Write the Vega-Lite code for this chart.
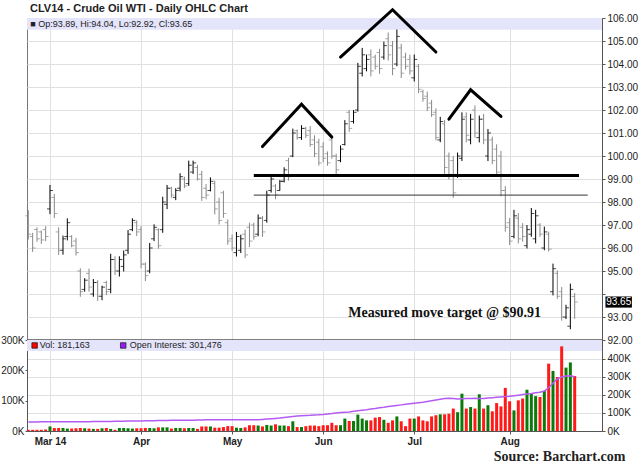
{
  "$schema": "https://vega.github.io/schema/vega-lite/v6.json",
  "background": "white",
  "padding": {"left": 0, "top": 2, "right": 2, "bottom": 0},
  "spacing": 0,
  "bounds": "flush",
  "resolve": {"scale": {"x": "shared"}},
  "config": {
    "view": {"stroke": "#777"},
    "font": "Liberation Sans",
    "axis": {"labelFont": "Liberation Sans", "labelFontSize": 10, "labelColor": "#222", "gridColor": "#e0e0e0", "domainColor": "#555", "tickColor": "#555", "labelOverlap": false}
  },
  "datasets": {
    "bars": [
      {"d":"2014-02-24","o":97.4,"h":97.64,"l":96.37,"c":96.6,"vol":4000,"oi":50000},
      {"d":"2014-02-25","o":96.5,"h":96.66,"l":95.83,"c":96.0,"vol":4000,"oi":50000},
      {"d":"2014-02-26","o":96.8,"h":96.9,"l":96.27,"c":96.4,"vol":4000,"oi":50000},
      {"d":"2014-02-27","o":96.7,"h":96.76,"l":96.18,"c":96.35,"vol":4000,"oi":51000},
      {"d":"2014-02-28","o":96.8,"h":96.95,"l":96.3,"c":96.5,"vol":5000,"oi":51000},
      {"d":"2014-03-03","o":97.7,"h":98.74,"l":97.47,"c":98.5,"vol":15000,"oi":51000},
      {"d":"2014-03-04","o":98.2,"h":98.35,"l":97.3,"c":97.5,"vol":10000,"oi":51000},
      {"d":"2014-03-05","o":96.7,"h":96.9,"l":95.7,"c":95.9,"vol":10000,"oi":51000},
      {"d":"2014-03-06","o":95.9,"h":96.54,"l":95.71,"c":96.4,"vol":10000,"oi":52000},
      {"d":"2014-03-07","o":96.5,"h":97.29,"l":96.33,"c":97.1,"vol":8000,"oi":52000},
      {"d":"2014-03-10","o":96.5,"h":96.56,"l":96.03,"c":96.1,"vol":8000,"oi":52000},
      {"d":"2014-03-11","o":96.3,"h":96.44,"l":95.67,"c":95.8,"vol":9000,"oi":52000},
      {"d":"2014-03-12","o":95.0,"h":95.12,"l":93.88,"c":94.1,"vol":10000,"oi":52000},
      {"d":"2014-03-13","o":94.2,"h":94.69,"l":94.1,"c":94.6,"vol":9000,"oi":52000},
      {"d":"2014-03-14","o":94.9,"h":95.1,"l":94.1,"c":94.3,"vol":8000,"oi":52000},
      {"d":"2014-03-17","o":94.0,"h":94.65,"l":93.88,"c":94.5,"vol":7000,"oi":53000},
      {"d":"2014-03-18","o":94.5,"h":94.6,"l":93.7,"c":93.9,"vol":7000,"oi":53000},
      {"d":"2014-03-19","o":93.9,"h":94.36,"l":93.73,"c":94.3,"vol":9000,"oi":53000},
      {"d":"2014-03-20","o":94.5,"h":94.57,"l":93.95,"c":94.1,"vol":10000,"oi":53000},
      {"d":"2014-03-21","o":94.2,"h":95.75,"l":94.03,"c":95.5,"vol":7000,"oi":53000},
      {"d":"2014-03-24","o":95.5,"h":95.64,"l":94.83,"c":95.0,"vol":4000,"oi":54000},
      {"d":"2014-03-25","o":95.0,"h":95.64,"l":94.76,"c":95.5,"vol":10000,"oi":54000},
      {"d":"2014-03-26","o":95.2,"h":95.89,"l":94.98,"c":95.7,"vol":10000,"oi":54000},
      {"d":"2014-03-27","o":95.9,"h":96.78,"l":95.74,"c":96.6,"vol":9000,"oi":55000},
      {"d":"2014-03-28","o":96.8,"h":97.29,"l":96.73,"c":97.2,"vol":8000,"oi":55000},
      {"d":"2014-03-31","o":97.1,"h":97.2,"l":96.52,"c":96.7,"vol":9000,"oi":56000},
      {"d":"2014-04-01","o":96.8,"h":96.95,"l":95.12,"c":95.3,"vol":9000,"oi":56000},
      {"d":"2014-04-02","o":95.3,"h":95.37,"l":94.56,"c":94.8,"vol":10000,"oi":57000},
      {"d":"2014-04-03","o":95.0,"h":96.22,"l":94.9,"c":96.0,"vol":10000,"oi":57000},
      {"d":"2014-04-04","o":96.4,"h":97.03,"l":96.3,"c":96.9,"vol":9000,"oi":57000},
      {"d":"2014-04-07","o":96.8,"h":96.85,"l":95.97,"c":96.1,"vol":12000,"oi":58000},
      {"d":"2014-04-08","o":96.8,"h":98.23,"l":96.66,"c":98.0,"vol":12000,"oi":58000},
      {"d":"2014-04-09","o":97.9,"h":98.74,"l":97.69,"c":98.6,"vol":12000,"oi":58000},
      {"d":"2014-04-10","o":98.6,"h":98.66,"l":98.19,"c":98.3,"vol":8000,"oi":59000},
      {"d":"2014-04-11","o":98.2,"h":98.6,"l":98.08,"c":98.5,"vol":10000,"oi":59000},
      {"d":"2014-04-14","o":98.6,"h":99.25,"l":98.46,"c":99.1,"vol":10000,"oi":59000},
      {"d":"2014-04-15","o":99.0,"h":99.1,"l":98.6,"c":98.7,"vol":9000,"oi":60000},
      {"d":"2014-04-16","o":98.8,"h":99.8,"l":98.7,"c":99.6,"vol":10000,"oi":60000},
      {"d":"2014-04-17","o":99.3,"h":99.8,"l":99.22,"c":99.7,"vol":10000,"oi":60000},
      {"d":"2014-04-21","o":99.5,"h":99.61,"l":98.93,"c":99.0,"vol":7000,"oi":61000},
      {"d":"2014-04-22","o":99.2,"h":99.36,"l":98.05,"c":98.2,"vol":15000,"oi":61000},
      {"d":"2014-04-23","o":98.6,"h":98.78,"l":98.12,"c":98.3,"vol":15000,"oi":62000},
      {"d":"2014-04-24","o":98.5,"h":99.07,"l":98.46,"c":98.9,"vol":15000,"oi":62000},
      {"d":"2014-04-25","o":98.8,"h":98.93,"l":97.46,"c":97.7,"vol":11000,"oi":62000},
      {"d":"2014-04-28","o":98.0,"h":98.19,"l":97.02,"c":97.2,"vol":11000,"oi":63000},
      {"d":"2014-04-29","o":98.4,"h":98.49,"l":97.31,"c":97.5,"vol":13000,"oi":63000},
      {"d":"2014-04-30","o":97.1,"h":97.24,"l":96.14,"c":96.3,"vol":16000,"oi":63000},
      {"d":"2014-05-01","o":96.4,"h":96.58,"l":95.88,"c":96.0,"vol":16000,"oi":63000},
      {"d":"2014-05-02","o":95.8,"h":96.7,"l":95.63,"c":96.5,"vol":11000,"oi":63000},
      {"d":"2014-05-05","o":95.9,"h":96.58,"l":95.78,"c":96.4,"vol":10000,"oi":63000},
      {"d":"2014-05-06","o":96.6,"h":96.8,"l":95.56,"c":95.7,"vol":12000,"oi":63000},
      {"d":"2014-05-07","o":96.9,"h":97.1,"l":96.04,"c":96.3,"vol":19000,"oi":62000},
      {"d":"2014-05-08","o":97.0,"h":97.1,"l":96.36,"c":96.5,"vol":19000,"oi":62000},
      {"d":"2014-05-09","o":96.6,"h":97.46,"l":96.51,"c":97.3,"vol":18000,"oi":62000},
      {"d":"2014-05-12","o":97.3,"h":97.39,"l":96.48,"c":96.7,"vol":15000,"oi":64000},
      {"d":"2014-05-13","o":97.2,"h":98.49,"l":97.1,"c":98.3,"vol":20000,"oi":66000},
      {"d":"2014-05-14","o":98.5,"h":99.1,"l":98.41,"c":99.0,"vol":18000,"oi":68000},
      {"d":"2014-05-15","o":98.7,"h":98.78,"l":98.12,"c":98.3,"vol":22000,"oi":70000},
      {"d":"2014-05-16","o":98.5,"h":98.95,"l":98.49,"c":98.9,"vol":18000,"oi":72000},
      {"d":"2014-05-19","o":98.9,"h":99.51,"l":98.85,"c":99.4,"vol":18000,"oi":75000},
      {"d":"2014-05-20","o":99.8,"h":99.92,"l":98.93,"c":99.1,"vol":16000,"oi":78000},
      {"d":"2014-05-21","o":100.0,"h":101.19,"l":99.95,"c":101.0,"vol":32000,"oi":81000},
      {"d":"2014-05-22","o":101.1,"h":101.15,"l":100.71,"c":100.8,"vol":13000,"oi":83000},
      {"d":"2014-05-23","o":100.8,"h":101.34,"l":100.7,"c":101.2,"vol":13000,"oi":85000},
      {"d":"2014-05-27","o":101.2,"h":101.27,"l":100.78,"c":100.9,"vol":16000,"oi":86000},
      {"d":"2014-05-28","o":101.1,"h":101.3,"l":100.4,"c":100.5,"vol":18000,"oi":87000},
      {"d":"2014-05-29","o":100.7,"h":100.9,"l":99.95,"c":100.1,"vol":18000,"oi":89000},
      {"d":"2014-05-30","o":100.6,"h":100.75,"l":99.58,"c":99.7,"vol":16000,"oi":90000},
      {"d":"2014-06-02","o":100.4,"h":100.6,"l":99.73,"c":99.9,"vol":19000,"oi":92000},
      {"d":"2014-06-03","o":100.1,"h":100.2,"l":99.58,"c":99.7,"vol":19000,"oi":95000},
      {"d":"2014-06-04","o":100.7,"h":100.85,"l":99.88,"c":100.0,"vol":27000,"oi":97000},
      {"d":"2014-06-05","o":100.0,"h":100.1,"l":99.2,"c":99.4,"vol":19000,"oi":100000},
      {"d":"2014-06-06","o":99.8,"h":100.46,"l":99.73,"c":100.3,"vol":19000,"oi":102000},
      {"d":"2014-06-09","o":100.5,"h":101.56,"l":100.46,"c":101.4,"vol":41000,"oi":104000},
      {"d":"2014-06-10","o":101.9,"h":102.0,"l":101.05,"c":101.2,"vol":33000,"oi":106000},
      {"d":"2014-06-11","o":101.5,"h":102.0,"l":101.41,"c":101.9,"vol":33000,"oi":109000},
      {"d":"2014-06-12","o":102.0,"h":104.05,"l":101.93,"c":103.9,"vol":54000,"oi":112000},
      {"d":"2014-06-13","o":103.6,"h":104.7,"l":103.46,"c":104.4,"vol":41000,"oi":115000},
      {"d":"2014-06-16","o":103.8,"h":104.41,"l":103.68,"c":104.2,"vol":35000,"oi":118000},
      {"d":"2014-06-17","o":104.4,"h":104.63,"l":103.46,"c":103.7,"vol":35000,"oi":122000},
      {"d":"2014-06-18","o":104.3,"h":104.41,"l":103.76,"c":103.9,"vol":44000,"oi":125000},
      {"d":"2014-06-19","o":104.5,"h":104.66,"l":103.57,"c":103.8,"vol":46000,"oi":129000},
      {"d":"2014-06-20","o":104.3,"h":104.97,"l":104.19,"c":104.8,"vol":37000,"oi":132000},
      {"d":"2014-06-23","o":105.1,"h":105.37,"l":104.15,"c":104.4,"vol":27000,"oi":136000},
      {"d":"2014-06-24","o":104.8,"h":105.0,"l":103.51,"c":103.8,"vol":35000,"oi":139000},
      {"d":"2014-06-25","o":104.0,"h":105.5,"l":103.9,"c":105.2,"vol":48000,"oi":142000},
      {"d":"2014-06-26","o":104.7,"h":104.88,"l":103.39,"c":103.6,"vol":32000,"oi":145000},
      {"d":"2014-06-27","o":104.3,"h":104.49,"l":103.76,"c":103.9,"vol":16000,"oi":148000},
      {"d":"2014-06-30","o":104.2,"h":104.41,"l":103.54,"c":103.7,"vol":41000,"oi":151000},
      {"d":"2014-07-01","o":103.4,"h":104.41,"l":103.24,"c":104.2,"vol":41000,"oi":154000},
      {"d":"2014-07-02","o":103.9,"h":104.0,"l":102.73,"c":102.9,"vol":48000,"oi":157000},
      {"d":"2014-07-03","o":102.8,"h":102.88,"l":102.36,"c":102.5,"vol":35000,"oi":160000},
      {"d":"2014-07-07","o":102.6,"h":102.8,"l":101.95,"c":102.1,"vol":32000,"oi":164000},
      {"d":"2014-07-08","o":102.3,"h":102.44,"l":101.7,"c":101.8,"vol":48000,"oi":168000},
      {"d":"2014-07-09","o":101.9,"h":102.07,"l":100.68,"c":100.8,"vol":52000,"oi":172000},
      {"d":"2014-07-10","o":100.7,"h":101.7,"l":100.6,"c":101.5,"vol":55000,"oi":176000},
      {"d":"2014-07-11","o":101.4,"h":101.56,"l":99.22,"c":99.5,"vol":55000,"oi":180000},
      {"d":"2014-07-14","o":100.0,"h":100.15,"l":98.98,"c":99.2,"vol":57000,"oi":182000},
      {"d":"2014-07-15","o":99.8,"h":100.0,"l":98.18,"c":98.4,"vol":74000,"oi":180000},
      {"d":"2014-07-16","o":99.2,"h":100.15,"l":99.05,"c":100.0,"vol":62000,"oi":178000},
      {"d":"2014-07-17","o":99.9,"h":101.9,"l":99.78,"c":101.6,"vol":123000,"oi":179000},
      {"d":"2014-07-18","o":101.7,"h":101.9,"l":100.59,"c":100.9,"vol":74000,"oi":180000},
      {"d":"2014-07-21","o":100.7,"h":101.83,"l":100.51,"c":101.6,"vol":79000,"oi":181000},
      {"d":"2014-07-22","o":102.0,"h":102.2,"l":100.8,"c":101.0,"vol":74000,"oi":182000},
      {"d":"2014-07-23","o":100.8,"h":101.76,"l":100.59,"c":101.6,"vol":121000,"oi":180000},
      {"d":"2014-07-24","o":101.6,"h":101.83,"l":100.51,"c":100.7,"vol":74000,"oi":181000},
      {"d":"2014-07-25","o":100.0,"h":101.17,"l":99.78,"c":101.0,"vol":85000,"oi":183000},
      {"d":"2014-07-28","o":100.7,"h":100.84,"l":99.64,"c":99.8,"vol":65000,"oi":185000},
      {"d":"2014-07-29","o":100.3,"h":100.51,"l":99.13,"c":99.3,"vol":92000,"oi":187000},
      {"d":"2014-07-30","o":100.0,"h":100.22,"l":98.25,"c":98.5,"vol":81000,"oi":189000},
      {"d":"2014-07-31","o":98.5,"h":98.69,"l":96.71,"c":96.9,"vol":142000,"oi":191000},
      {"d":"2014-08-01","o":97.1,"h":97.3,"l":96.13,"c":96.3,"vol":98000,"oi":193000},
      {"d":"2014-08-04","o":96.5,"h":97.66,"l":96.42,"c":97.4,"vol":68000,"oi":196000},
      {"d":"2014-08-05","o":97.3,"h":97.52,"l":96.2,"c":96.4,"vol":101000,"oi":199000},
      {"d":"2014-08-06","o":96.9,"h":97.08,"l":96.27,"c":96.5,"vol":107000,"oi":202000},
      {"d":"2014-08-07","o":96.1,"h":97.0,"l":95.98,"c":96.8,"vol":136000,"oi":205000},
      {"d":"2014-08-08","o":96.6,"h":97.74,"l":96.49,"c":97.5,"vol":123000,"oi":208000},
      {"d":"2014-08-11","o":96.4,"h":97.66,"l":96.2,"c":97.4,"vol":115000,"oi":212000},
      {"d":"2014-08-12","o":97.0,"h":97.08,"l":96.49,"c":96.6,"vol":112000,"oi":215000},
      {"d":"2014-08-13","o":96.0,"h":96.93,"l":95.9,"c":96.7,"vol":132000,"oi":222000},
      {"d":"2014-08-14","o":96.6,"h":96.71,"l":95.84,"c":95.95,"vol":222000,"oi":240000},
      {"d":"2014-08-15","o":94.1,"h":95.32,"l":93.94,"c":95.1,"vol":198000,"oi":265000},
      {"d":"2014-08-18","o":94.9,"h":95.03,"l":93.79,"c":93.9,"vol":178000,"oi":290000},
      {"d":"2014-08-19","o":94.1,"h":94.3,"l":92.84,"c":93.0,"vol":279000,"oi":300000},
      {"d":"2014-08-20","o":93.0,"h":93.53,"l":92.91,"c":93.4,"vol":209000,"oi":305000},
      {"d":"2014-08-21","o":92.6,"h":94.45,"l":92.47,"c":94.2,"vol":226000,"oi":306000},
      {"d":"2014-08-22","o":93.89,"h":94.04,"l":92.92,"c":93.65,"vol":181163,"oi":301476}
    ],
    "hs": [
      {"seg":"left","d":"2014-05-12","p":100.41},
      {"seg":"left","d":"2014-05-23","p":102.25},
      {"seg":"left","d":"2014-06-04","p":100.82},
      {"seg":"head","d":"2014-06-06","p":104.3},
      {"seg":"head","d":"2014-06-24","p":106.36},
      {"seg":"head","d":"2014-07-09","p":104.52},
      {"seg":"right","d":"2014-07-14","p":101.6},
      {"seg":"right","d":"2014-07-21","p":102.88},
      {"seg":"right","d":"2014-07-30","p":101.72}
    ],
    "neck": [{"from":"2014-05-08","to":"2014-08-25","level":99.15}],
    "base": [{"from":"2014-05-08","to":"2014-08-27","level":98.3}],
    "one": [{}]
  },
  "vconcat": [
    {
      "width": 575,
      "height": 322,
      "title": {"text": "CLV14 - Crude Oil WTI - Daily OHLC Chart", "anchor": "start", "frame": "group", "font": "Liberation Sans", "fontSize": 11, "fontWeight": "bold", "color": "#222", "offset": -10, "dx": 3},
      "resolve": {"axis": {"x": "independent", "y": "independent"}},
      "layer": [
        {
          "data": {"name": "one"},
          "mark": {"type": "rect", "color": "#e4e4fa"},
          "encoding": {
            "y": {"datum": 106, "type": "quantitative", "axis": null},
            "y2": {"datum": 105.49}
          }
        },
        {
          "data": {"name": "bars"},
          "mark": {"type": "rule", "strokeWidth": 1},
          "encoding": {
            "x": {
              "field": "d", "type": "ordinal",
              "scale": {"type": "point", "padding": 0.3, "domain": ["2014-02-24","2014-02-25","2014-02-26","2014-02-27","2014-02-28","2014-03-03","2014-03-04","2014-03-05","2014-03-06","2014-03-07","2014-03-10","2014-03-11","2014-03-12","2014-03-13","2014-03-14","2014-03-17","2014-03-18","2014-03-19","2014-03-20","2014-03-21","2014-03-24","2014-03-25","2014-03-26","2014-03-27","2014-03-28","2014-03-31","2014-04-01","2014-04-02","2014-04-03","2014-04-04","2014-04-07","2014-04-08","2014-04-09","2014-04-10","2014-04-11","2014-04-14","2014-04-15","2014-04-16","2014-04-17","2014-04-21","2014-04-22","2014-04-23","2014-04-24","2014-04-25","2014-04-28","2014-04-29","2014-04-30","2014-05-01","2014-05-02","2014-05-05","2014-05-06","2014-05-07","2014-05-08","2014-05-09","2014-05-12","2014-05-13","2014-05-14","2014-05-15","2014-05-16","2014-05-19","2014-05-20","2014-05-21","2014-05-22","2014-05-23","2014-05-27","2014-05-28","2014-05-29","2014-05-30","2014-06-02","2014-06-03","2014-06-04","2014-06-05","2014-06-06","2014-06-09","2014-06-10","2014-06-11","2014-06-12","2014-06-13","2014-06-16","2014-06-17","2014-06-18","2014-06-19","2014-06-20","2014-06-23","2014-06-24","2014-06-25","2014-06-26","2014-06-27","2014-06-30","2014-07-01","2014-07-02","2014-07-03","2014-07-07","2014-07-08","2014-07-09","2014-07-10","2014-07-11","2014-07-14","2014-07-15","2014-07-16","2014-07-17","2014-07-18","2014-07-21","2014-07-22","2014-07-23","2014-07-24","2014-07-25","2014-07-28","2014-07-29","2014-07-30","2014-07-31","2014-08-01","2014-08-04","2014-08-05","2014-08-06","2014-08-07","2014-08-08","2014-08-11","2014-08-12","2014-08-13","2014-08-14","2014-08-15","2014-08-18","2014-08-19","2014-08-20","2014-08-21","2014-08-22","2014-08-25","2014-08-26","2014-08-27","2014-08-28","2014-08-29","2014-09-02"]},
              "axis": {"values": ["2014-03-03","2014-04-01","2014-05-01","2014-06-02","2014-07-01","2014-08-01"], "grid": true, "labels": false, "ticks": false, "title": null, "domainColor": "#000", "domainWidth": 2}
            },
            "y": {
              "field": "l", "type": "quantitative",
              "scale": {"domain": [92, 106], "nice": false, "zero": false},
              "axis": {"orient": "right", "values": [92,93,94,95,96,97,98,99,100,101,102,103,104,105,106], "labelExpr": "datum.value == 94 ? '' : format(datum.value, '.2f')", "grid": true, "title": null, "tickSize": 3, "labelPadding": 2, "labelOverlap": false}
            },
            "y2": {"field": "h"},
            "color": {"condition": {"test": "datum.c >= datum.o", "value": "#000"}, "value": "#888"}
          }
        },
        {
          "data": {"name": "bars"},
          "mark": {"type": "tick", "size": 3, "thickness": 1, "xOffset": -1.5},
          "encoding": {
            "x": {"field": "d", "type": "ordinal", "axis": null},
            "y": {"field": "o", "type": "quantitative", "axis": null},
            "color": {"condition": {"test": "datum.c >= datum.o", "value": "#000"}, "value": "#888"}
          }
        },
        {
          "data": {"name": "bars"},
          "mark": {"type": "tick", "size": 3, "thickness": 1, "xOffset": 1.5},
          "encoding": {
            "x": {"field": "d", "type": "ordinal", "axis": null},
            "y": {"field": "c", "type": "quantitative", "axis": null},
            "color": {"condition": {"test": "datum.c >= datum.o", "value": "#000"}, "value": "#888"}
          }
        },
        {
          "data": {"name": "neck"},
          "mark": {"type": "rule", "color": "#000", "strokeWidth": 3},
          "encoding": {
            "x": {"field": "from", "type": "ordinal", "axis": null},
            "x2": {"field": "to"},
            "y": {"field": "level", "type": "quantitative", "axis": null}
          }
        },
        {
          "data": {"name": "base"},
          "mark": {"type": "rule", "color": "#333", "strokeWidth": 1},
          "encoding": {
            "x": {"field": "from", "type": "ordinal", "axis": null},
            "x2": {"field": "to"},
            "y": {"field": "level", "type": "quantitative", "axis": null}
          }
        },
        {
          "data": {"name": "hs"},
          "mark": {"type": "line", "color": "#000", "strokeWidth": 3, "strokeCap": "round"},
          "encoding": {
            "x": {"field": "d", "type": "ordinal", "axis": null},
            "y": {"field": "p", "type": "quantitative", "axis": null},
            "detail": {"field": "seg"}
          }
        },
        {
          "data": {"name": "one"},
          "mark": {"type": "text", "text": "■ Op:93.89, Hi:94.04, Lo:92.92, Cl:93.65", "align": "left", "baseline": "middle", "dx": 2, "fontSize": 9, "color": "#222"},
          "encoding": {
            "x": {"datum": "2014-02-24", "type": "ordinal", "axis": null},
            "y": {"datum": 105.75, "type": "quantitative", "axis": null}
          }
        },
        {
          "data": {"name": "one"},
          "mark": {"type": "text", "text": "Measured move target @ $90.91", "align": "center", "baseline": "middle", "font": "Liberation Serif", "fontSize": 14, "fontWeight": "bold", "color": "#111"},
          "encoding": {
            "x": {"datum": "2014-07-11", "type": "ordinal", "axis": null},
            "y": {"datum": 93.18, "type": "quantitative", "axis": null}
          }
        },
        {
          "data": {"name": "one"},
          "mark": {"type": "point", "shape": "M-1,-0.42L1,-0.42L1,0.42L-1,0.42Z", "size": 700, "filled": true, "opacity": 1, "color": "#000", "xOffset": 44},
          "encoding": {
            "x": {"datum": "2014-08-22", "type": "ordinal", "axis": null},
            "y": {"datum": 93.65, "type": "quantitative", "axis": null}
          }
        },
        {
          "data": {"name": "one"},
          "mark": {"type": "text", "text": "93.65", "align": "center", "baseline": "middle", "fontSize": 10, "color": "#fff", "xOffset": 44},
          "encoding": {
            "x": {"datum": "2014-08-22", "type": "ordinal", "axis": null},
            "y": {"datum": 93.65, "type": "quantitative", "axis": null}
          }
        }
      ]
    },
    {
      "width": 575,
      "height": 91,
      "title": {"text": "Source: Barchart.com", "orient": "bottom", "anchor": "end", "frame": "bounds", "font": "Liberation Serif", "fontSize": 14, "fontWeight": "bold", "color": "#222", "offset": 4, "dx": -5},
      "resolve": {"scale": {"y": "independent"}, "axis": {"x": "independent", "y": "independent"}},
      "layer": [
        {
          "resolve": {"axis": {"x": "independent", "y": "independent"}},
          "layer": [
            {
              "data": {"name": "one"},
              "mark": {"type": "rect", "color": "#e4e4fa"},
              "encoding": {
                "y": {"datum": 300000, "type": "quantitative", "axis": null},
                "y2": {"datum": 264000}
              }
            },
            {
              "data": {"name": "bars"},
              "mark": {"type": "bar", "width": 3},
              "encoding": {
                "x": {
                  "field": "d", "type": "ordinal",
                  "scale": {"type": "point", "padding": 0.3, "domain": ["2014-02-24","2014-02-25","2014-02-26","2014-02-27","2014-02-28","2014-03-03","2014-03-04","2014-03-05","2014-03-06","2014-03-07","2014-03-10","2014-03-11","2014-03-12","2014-03-13","2014-03-14","2014-03-17","2014-03-18","2014-03-19","2014-03-20","2014-03-21","2014-03-24","2014-03-25","2014-03-26","2014-03-27","2014-03-28","2014-03-31","2014-04-01","2014-04-02","2014-04-03","2014-04-04","2014-04-07","2014-04-08","2014-04-09","2014-04-10","2014-04-11","2014-04-14","2014-04-15","2014-04-16","2014-04-17","2014-04-21","2014-04-22","2014-04-23","2014-04-24","2014-04-25","2014-04-28","2014-04-29","2014-04-30","2014-05-01","2014-05-02","2014-05-05","2014-05-06","2014-05-07","2014-05-08","2014-05-09","2014-05-12","2014-05-13","2014-05-14","2014-05-15","2014-05-16","2014-05-19","2014-05-20","2014-05-21","2014-05-22","2014-05-23","2014-05-27","2014-05-28","2014-05-29","2014-05-30","2014-06-02","2014-06-03","2014-06-04","2014-06-05","2014-06-06","2014-06-09","2014-06-10","2014-06-11","2014-06-12","2014-06-13","2014-06-16","2014-06-17","2014-06-18","2014-06-19","2014-06-20","2014-06-23","2014-06-24","2014-06-25","2014-06-26","2014-06-27","2014-06-30","2014-07-01","2014-07-02","2014-07-03","2014-07-07","2014-07-08","2014-07-09","2014-07-10","2014-07-11","2014-07-14","2014-07-15","2014-07-16","2014-07-17","2014-07-18","2014-07-21","2014-07-22","2014-07-23","2014-07-24","2014-07-25","2014-07-28","2014-07-29","2014-07-30","2014-07-31","2014-08-01","2014-08-04","2014-08-05","2014-08-06","2014-08-07","2014-08-08","2014-08-11","2014-08-12","2014-08-13","2014-08-14","2014-08-15","2014-08-18","2014-08-19","2014-08-20","2014-08-21","2014-08-22","2014-08-25","2014-08-26","2014-08-27","2014-08-28","2014-08-29","2014-09-02"]},
                  "axis": {"values": ["2014-03-03","2014-04-01","2014-05-01","2014-06-02","2014-07-01","2014-08-01"], "labelExpr": "{'2014-03-03': 'Mar 14', '2014-04-01': 'Apr', '2014-05-01': 'May', '2014-06-02': 'Jun', '2014-07-01': 'Jul', '2014-08-01': 'Aug'}[datum.value]", "labelFontWeight": "bold", "labelAngle": 0, "grid": true, "tickSize": 3, "labelPadding": 2, "title": null}
                },
                "y": {
                  "field": "vol", "type": "quantitative",
                  "scale": {"domain": [0, 300000], "nice": false},
                  "axis": {"orient": "left", "values": [0, 100000, 200000, 300000], "labelExpr": "format(datum.value / 1000, 'd') + 'K'", "grid": false, "title": null, "tickSize": 2, "labelPadding": 1, "labelOverlap": false}
                },
                "color": {"condition": {"test": "datum.c >= datum.o", "value": "#0b7a0b"}, "value": "#ff1a1a"}
              }
            },
            {
              "data": {"name": "one"},
              "mark": {"type": "point", "shape": "square", "size": 30, "filled": true, "opacity": 1, "color": "#ff0000", "stroke": "#222", "strokeWidth": 0.8, "xOffset": 2},
              "encoding": {
                "x": {"datum": "2014-02-25", "type": "ordinal", "axis": null},
                "y": {"datum": 282000, "type": "quantitative", "axis": null}
              }
            },
            {
              "data": {"name": "one"},
              "mark": {"type": "text", "text": "Vol: 181,163", "align": "left", "baseline": "middle", "dx": 7, "fontSize": 9, "color": "#222"},
              "encoding": {
                "x": {"datum": "2014-02-25", "type": "ordinal", "axis": null},
                "y": {"datum": 282000, "type": "quantitative", "axis": null}
              }
            },
            {
              "data": {"name": "one"},
              "mark": {"type": "point", "shape": "square", "size": 30, "filled": true, "opacity": 1, "color": "#9a1aff", "stroke": "#222", "strokeWidth": 0.8, "xOffset": -0.5},
              "encoding": {
                "x": {"datum": "2014-03-26", "type": "ordinal", "axis": null},
                "y": {"datum": 282000, "type": "quantitative", "axis": null}
              }
            },
            {
              "data": {"name": "one"},
              "mark": {"type": "text", "text": "Open Interest: 301,476", "align": "left", "baseline": "middle", "dx": 6, "fontSize": 9, "color": "#222"},
              "encoding": {
                "x": {"datum": "2014-03-26", "type": "ordinal", "axis": null},
                "y": {"datum": 282000, "type": "quantitative", "axis": null}
              }
            }
          ]
        },
        {
          "data": {"name": "bars"},
          "mark": {"type": "line", "color": "#b45cf2", "strokeWidth": 1.5},
          "encoding": {
            "x": {"field": "d", "type": "ordinal", "axis": null},
            "y": {
              "field": "oi", "type": "quantitative",
              "scale": {"domain": [0, 505000], "nice": false},
              "axis": {"orient": "right", "values": [0, 100000, 200000, 300000, 400000], "labelExpr": "format(datum.value / 1000, 'd') + 'K'", "grid": true, "title": null, "tickSize": 3, "labelPadding": 2}
            }
          }
        }
      ]
    }
  ]
}
